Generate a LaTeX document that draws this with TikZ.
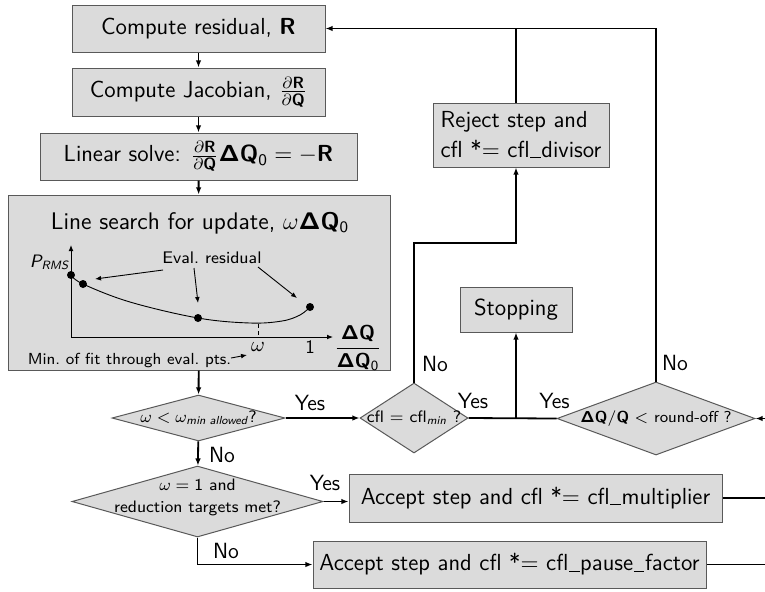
\documentclass[tikz,border=0pt]{standalone}
\usepackage{fix-cm}
\usepackage{amsmath}
\renewcommand{\familydefault}{\sfdefault}
\SetSymbolFont{operators}{normal}{OT1}{cmss}{m}{n}
\SetMathAlphabet{\mathbf}{normal}{OT1}{cmss}{bx}{n}
\SetMathAlphabet{\mathit}{normal}{OT1}{cmss}{m}{sl}
\newcommand{\us}{\kern0.03em\rule[-0.03em]{0.45em}{0.045em}\kern0.03em}
\usetikzlibrary{shapes.geometric,arrows.meta}
\begin{document}
\begin{tikzpicture}[x=0.5pt,y=-0.5pt,
  box/.style={draw=black!65, fill=black!14, line width=0.5pt, inner sep=0pt, font=\fontsize{11.6}{15}\selectfont},
  dia/.style={diamond, draw=black!65, fill=black!14, line width=0.5pt, inner sep=0pt},
  dtxt/.style={font=\fontsize{8.3}{11}\selectfont, align=center, inner sep=0pt},
  lbl/.style={font=\fontsize{11}{13}\selectfont, inner sep=0pt},
  con/.style={line width=0.9pt},
  arr/.style={con, -{Latex[length=3.6pt,width=2.8pt]}},
  thinl/.style={line width=0.45pt},
  thinarr/.style={thinl, -{Latex[length=3pt,width=2.4pt]}},
  small/.style={font=\fontsize{8}{10}\selectfont, inner sep=0pt},
]
\useasboundingbox (0,0) rectangle (765,591);

% main column
\node[box, minimum width=126.5pt, minimum height=23.5pt] (res) at (198.5,28.5) {Compute residual, $\mathbf{R}$};
\node[box, minimum width=126.5pt, minimum height=24pt] (jac) at (198.5,92) {Compute Jacobian, $\frac{\partial\mathbf{R}}{\partial\mathbf{Q}}$};
\node[box, minimum width=158.5pt, minimum height=23.5pt] (lin) at (198.5,156.5) {Linear solve: $\frac{\partial\mathbf{R}}{\partial\mathbf{Q}}\mathbf{\Delta Q}_0=-\mathbf{R}$};
\node[box, minimum width=191pt, minimum height=87.5pt] (ls) at (199,282.5) {};
\node[font=\fontsize{12}{15}\selectfont, inner sep=0pt] (lst) at (200,223) {Line search for update, $\omega\mathbf{\Delta Q}_0$};

% plot inside line search
\coordinate (O) at (71,337);
\coordinate (yt) at (71,245);
\coordinate (xt) at (333,337);
\draw[thinarr] (O) -- (yt);
\draw[thinarr] (O) -- (xt);
\node[font=\fontsize{9}{11}\selectfont, inner sep=0pt] (prms) at (50,262) {$\mathit{P}_{\mathit{RMS}}$};
\coordinate (p1) at (71,275);
\coordinate (p2) at (83,284);
\coordinate (p3) at (198,318);
\coordinate (p4) at (310,307);
\draw[thinl] plot[smooth, tension=0.6] coordinates {(71,275) (83,284) (130,302) (198,318) (250,323) (282,321) (300,315) (310,307)};
\foreach \p in {p1,p2,p3,p4} \fill (\p) circle (2pt);
\draw[thinl, dash pattern=on 2pt off 1.5pt] (258,324) -- (258,337);
\node[small, font=\fontsize{8.4}{10}\selectfont] (ev) at (212,258) {Eval.\ residual};
\draw[thinarr] (163,270) -- (95,279);
\draw[thinarr] (194,268) -- (198,303);
\draw[thinarr] (258,267) -- (297,298);
\node[font=\fontsize{10.5}{12}\selectfont, inner sep=0pt] (om) at (258,347) {$\omega$};
\node[font=\fontsize{9.5}{12}\selectfont, inner sep=0pt] (one) at (310,347) {1};
\node[font=\fontsize{10}{12}\selectfont, inner sep=0pt] (fr) at (358,348) {$\dfrac{\mathbf{\Delta Q}}{\mathbf{\Delta Q}_0}$};
\node[small] (mf) at (129.5,360) {Min.\ of fit through eval.\ pts.};
\coordinate (mfa) at (231,358);
\draw[thinarr] (mfa) -- (247,355);

% decisions
\node[dia, minimum width=86.5pt, minimum height=23pt] (d1) at (198.5,418) {};
\node[dtxt] (d1t) at (d1) {$\omega<\omega_{\text{\itshape min allowed}}$?};
\node[dia, minimum width=125.5pt, minimum height=35.5pt] (d2) at (197.5,501.5) {};
\node[dtxt] (d2t) at (197.5,497) {$\omega=1$ and\\reduction targets met?};
\node[dia, minimum width=54pt, minimum height=35pt] (cfl) at (414,418) {};
\node[dtxt] (cflt) at (cfl) {cfl $=$ cfl$_{\text{\itshape min}}$ ?};
\node[dia, minimum width=99pt, minimum height=36.5pt] (ro) at (656,418.5) {};
\node[dtxt, font=\fontsize{7.9}{10}\selectfont] (rot) at (ro) {$\mathbf{\Delta Q}/\mathbf{Q}<$ round-off ?};

% other boxes
\node[box, minimum width=88pt, minimum height=32pt, align=left] (rej) at (521,135) {Reject step and\\cfl *$=$ cfl\us divisor};
\node[box, minimum width=56pt, minimum height=22.5pt] (stop) at (516,309.5) {Stopping};
\node[box, minimum width=186.5pt, minimum height=24pt] (acc1) at (535.5,498) {Accept step and cfl *$=$ cfl\us multiplier};
\node[box, minimum width=196.5pt, minimum height=23.5pt] (acc2) at (509.5,564.5) {Accept step and cfl *$=$ cfl\us pause\us factor};

% coordinates
\coordinate (rj) at (516,243);
\coordinate (eR) at (765,418.5);
\coordinate (e1) at (765,498);
\coordinate (e2) at (765,564.5);

% connectors
\draw[arr] (res) -- (jac);
\draw[arr] (jac) -- (lin);
\draw[arr] (lin) -- (ls);
\draw[arr] (ls) -- (d1);
\draw[arr] (d1) -- (d2);
\draw[arr] (d1) -- (cfl);
\draw[arr] (d2.east) -- (d2.east -| acc1.west);
\draw[arr] (d2.south) |- (acc2.west);
\draw[arr] (cfl.north) |- (rj) -- (rj |- rej.south);
\draw[con] (cfl.east) -- (ro.west);
\draw[arr] (stop.south |- cfl.east) -- (stop.south);
\draw[con] (rj |- rej.north) -- (rj |- res.east);
\draw[arr] (ro.north) -- (ro.north |- res.east) -- (res.east);
\draw[arr] (eR) -- (ro.east);
\draw[con] (acc1.east) -- (e1);
\draw[con] (acc2.east) -- (e2);

% labels
\node[lbl] (l1) at (310,403) {Yes};
\node[lbl] (l2) at (222,455) {No};
\node[lbl] (l3) at (325,483) {Yes};
\node[lbl] (l4) at (226,551) {No};
\node[lbl] (l5) at (435,364) {No};
\node[lbl] (l6) at (473,401) {Yes};
\node[lbl] (l7) at (554.5,401) {Yes};
\node[lbl] (l8) at (675,363) {No};
\end{tikzpicture}
\end{document}
